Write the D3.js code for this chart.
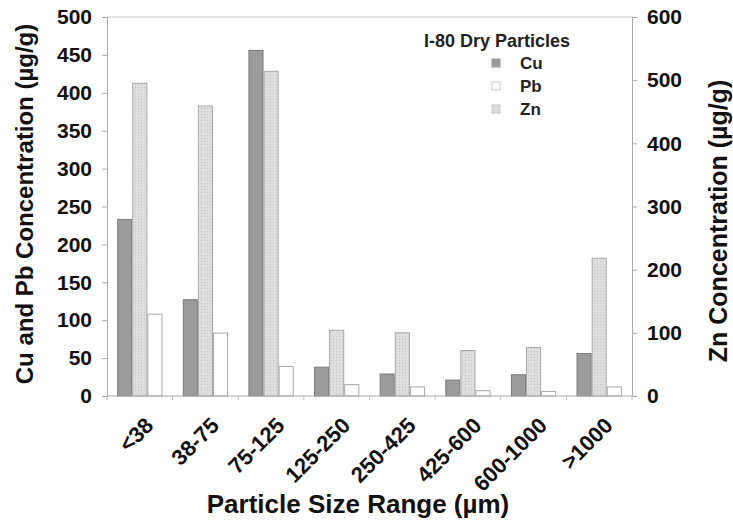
<!DOCTYPE html>
<html><head><meta charset="utf-8">
<script src="https://cdn.jsdelivr.net/npm/d3@7"></script>
<style>
body{margin:0;background:#fff;}
svg{display:block;font-family:"Liberation Sans",Arial,sans-serif;font-weight:bold;}
</style></head>
<body><svg id="c" width="733" height="523"></svg>
<script>
const categories = ["<38","38-75","75-125","125-250","250-425","425-600","600-1000",">1000"];
const cuValues = [233,127,456,38,29,21,28,56];
const pbValues = [108,83,39,15,12,7,6,12];
const znValues = [495,459,514,104,100,72,77,218];
const leftTicks = [0,50,100,150,200,250,300,350,400,450,500];
const rightTicks = [0,100,200,300,400,500,600];
const seriesOrder = ["Cu","Zn","Pb"];
const legendOrder = ["Cu","Pb","Zn"];

const svg = d3.select("#c");
const L=107, R=632, T=17, B=396;

const defs = svg.append("defs");
const pat = defs.append("pattern").attr("id","znpat").attr("width",3).attr("height",3).attr("patternUnits","userSpaceOnUse");
pat.append("rect").attr("width",3).attr("height",3).attr("fill","#dcdcdc");
pat.append("rect").attr("width",1).attr("height",1).attr("fill","#c8c8c8");
pat.append("rect").attr("x",1.5).attr("y",1.5).attr("width",1).attr("height",1).attr("fill","#ececec");

const x0 = d3.scaleBand().domain(categories).range([L,R]).paddingInner(0.31).paddingOuter(0.155);
const x1 = d3.scaleBand().domain(seriesOrder).range([0,x0.bandwidth()]);
const yL = d3.scaleLinear().domain([0,500]).range([B,T]);
const yR = d3.scaleLinear().domain([0,600]).range([B,T]);

const fill = {Cu:"#9b9b9b", Zn:"url(#znpat)", Pb:"#ffffff"};
const stroke = {Cu:"#7a7a7a", Zn:"#a8a8a8", Pb:"#a8a8a8"};
const vals = {Cu:cuValues, Pb:pbValues, Zn:znValues};
const scaleFor = {Cu:yL, Pb:yL, Zn:yR};

// frame
svg.append("line").attr("x1",L).attr("x2",R).attr("y1",T).attr("y2",T).attr("stroke","#c8c8c8");

// bars
seriesOrder.forEach(s=>{
  svg.append("g").selectAll("rect").data(categories).join("rect")
    .attr("x",(d)=>x0(d)+x1(s)+0.5)
    .attr("width",x1.bandwidth()-1)
    .attr("y",(d,i)=>scaleFor[s](vals[s][i]))
    .attr("height",(d,i)=>B-scaleFor[s](vals[s][i]))
    .attr("fill",fill[s]).attr("stroke",stroke[s]).attr("stroke-width",1);
});

// left axis
const gL = svg.append("g").attr("transform",`translate(${L},0)`)
  .call(d3.axisLeft(yL).tickValues(leftTicks).tickSize(5).tickPadding(10));
gL.select(".domain").attr("stroke","#aaa");
gL.selectAll(".tick line").attr("stroke","#aaa");
gL.selectAll("text").attr("font-size",21).attr("font-weight","bold").attr("fill","#111").attr("font-family","Liberation Sans, Arial, sans-serif");

// right axis
const gR = svg.append("g").attr("transform",`translate(${R},0)`)
  .call(d3.axisRight(yR).tickValues(rightTicks).tickSize(5).tickPadding(10));
gR.select(".domain").attr("stroke","#aaa");
gR.selectAll(".tick line").attr("stroke","#aaa");
gR.selectAll("text").attr("font-size",21).attr("font-weight","bold").attr("fill","#111").attr("font-family","Liberation Sans, Arial, sans-serif");

// bottom axis line and boundary ticks
svg.append("line").attr("x1",L).attr("x2",R).attr("y1",B).attr("y2",B).attr("stroke","#aaa");
const step = x0.step();
const bounds = categories.map(c=>x0(c)-step*x0.paddingInner()/2).concat([x0(categories[categories.length-1])+x0.bandwidth()+step*x0.paddingInner()/2]);
svg.append("g").selectAll("line").data(bounds).join("line")
  .attr("x1",d=>d).attr("x2",d=>d).attr("y1",B).attr("y2",B+4).attr("stroke","#bbb");

// category labels
svg.append("g").selectAll("text").data(categories).join("text")
  .attr("transform",d=>`translate(${x0(d)+x0.bandwidth()/2+4},${B+20}) rotate(-45)`)
  .attr("text-anchor","end").attr("dy","0.7em")
  .attr("font-size",22).attr("fill","#111").text(d=>d);

// axis titles
svg.append("text").attr("transform",`translate(33,204) rotate(-90)`)
  .attr("text-anchor","middle").attr("font-size",24).attr("fill","#111")
  .text("Cu and Pb Concentration (µg/g)");
svg.append("text").attr("transform",`translate(727,221) rotate(-90)`)
  .attr("text-anchor","middle").attr("font-size",25).attr("fill","#111")
  .text("Zn Concentration (µg/g)");
svg.append("text").attr("x",358).attr("y",513)
  .attr("text-anchor","middle").attr("font-size",26).attr("fill","#111")
  .text("Particle Size Range (µm)");

// legend
svg.append("text").attr("x",497).attr("y",47).attr("text-anchor","middle").attr("font-size",18).attr("fill","#222").text("I-80 Dry Particles");
const lg = svg.append("g").selectAll("g").data(legendOrder).join("g")
  .attr("transform",(d,i)=>`translate(492,${63+i*23})`);
lg.append("rect").attr("x",0).attr("y",-4).attr("width",8).attr("height",8)
  .attr("fill",d=>d==="Zn"?"#dcdcdc":fill[d]).attr("stroke",d=>d==="Cu"?"#999":"#c8c8c8");
lg.append("text").attr("x",28).attr("y",6).attr("font-size",17).attr("fill","#222").text(d=>d);
</script></body></html>
